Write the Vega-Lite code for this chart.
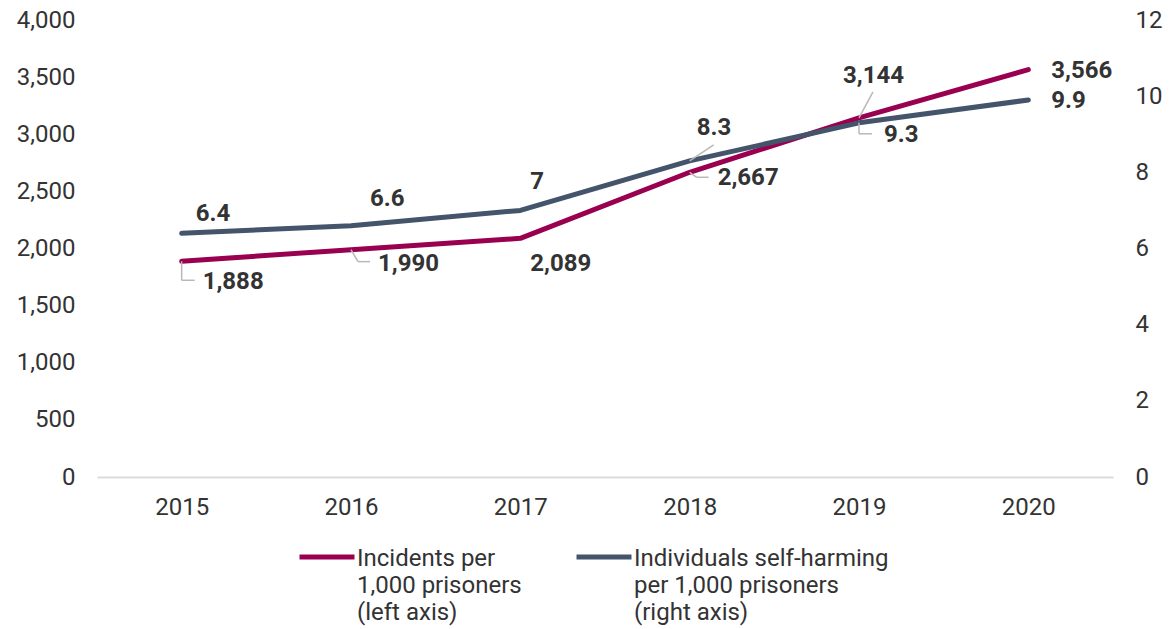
{
  "$schema": "https://vega.github.io/schema/vega-lite/v6.json",
  "width": 1016,
  "height": 457,
  "autosize": {"type": "none"},
  "padding": {"left": 97, "top": 20, "right": 56, "bottom": 152},
  "background": "white",
  "data": {"values": [
    {"year": "2015", "incidents": 1888, "individuals": 6.4},
    {"year": "2016", "incidents": 1990, "individuals": 6.6},
    {"year": "2017", "incidents": 2089, "individuals": 7},
    {"year": "2018", "incidents": 2667, "individuals": 8.3},
    {"year": "2019", "incidents": 3144, "individuals": 9.3},
    {"year": "2020", "incidents": 3566, "individuals": 9.9}
  ]},
  "encoding": {
    "x": {"field": "year", "type": "ordinal", "scale": {"type": "point", "padding": 0.5},
      "axis": {"title": null, "labelAngle": 0, "ticks": false, "domainColor": "#dcdcdc", "domainWidth": 2, "labelPadding": 18, "labelFontSize": 24, "labelColor": "#333333", "labelFont": "Roboto"}}
  },
  "layer": [
    {
      "encoding": {
        "y": {"field": "incidents", "type": "quantitative", "scale": {"domain": [0, 4000], "nice": false},
          "axis": {"title": null, "domain": false, "ticks": false, "grid": false, "labelPadding": 22, "values": [0, 500, 1000, 1500, 2000, 2500, 3000, 3500, 4000], "format": ",.0f", "labelFontSize": 24, "labelColor": "#333333", "labelFont": "Roboto", "labelFlush": false, "labelOverlap": false}}
      },
      "layer": [
        {"mark": {"type": "line", "strokeWidth": 5, "strokeCap": "round", "strokeJoin": "round"},
          "encoding": {"color": {"datum": "Incidents per|1,000 prisoners|(left axis)",
            "legend": {"orient": "none", "legendX": 200, "legendY": 497, "direction": "horizontal", "title": null,
              "symbolType": "M-1,0.36H1", "symbolStrokeWidth": 5, "symbolSize": 3025,
              "labelExpr": "split(datum.label, '|')",
              "labelFontSize": 24, "labelFont": "Roboto", "labelColor": "#333333", "labelLimit": 0,
              "labelBaseline": "top", "labelOffset": 0, "columnPadding": 44}}}},
        {"transform": [{"filter": "datum.year == '2015'"}], "mark": {"type": "rule", "color": "#b8b8b8", "strokeWidth": 1.5, "y2Offset": 19}, "encoding": {"x2": {"field": "year"}, "y2": {"field": "incidents"}}},
        {"transform": [{"filter": "datum.year == '2015'"}], "mark": {"type": "rule", "color": "#b8b8b8", "strokeWidth": 1.5, "yOffset": 19, "y2Offset": 19, "x2Offset": 13}, "encoding": {"x2": {"field": "year"}, "y2": {"field": "incidents"}}},
        {"transform": [{"filter": "datum.year == '2016'"}], "mark": {"type": "rule", "color": "#b8b8b8", "strokeWidth": 1.5, "y2Offset": 12, "x2Offset": 7}, "encoding": {"x2": {"field": "year"}, "y2": {"field": "incidents"}}},
        {"transform": [{"filter": "datum.year == '2016'"}], "mark": {"type": "rule", "color": "#b8b8b8", "strokeWidth": 1.5, "xOffset": 7, "yOffset": 12, "y2Offset": 12, "x2Offset": 19}, "encoding": {"x2": {"field": "year"}, "y2": {"field": "incidents"}}},
        {"transform": [{"filter": "datum.year == '2018'"}], "mark": {"type": "rule", "color": "#b8b8b8", "strokeWidth": 1.5, "y2Offset": 5, "x2Offset": 7}, "encoding": {"x2": {"field": "year"}, "y2": {"field": "incidents"}}},
        {"transform": [{"filter": "datum.year == '2018'"}], "mark": {"type": "rule", "color": "#b8b8b8", "strokeWidth": 1.5, "xOffset": 7, "yOffset": 5, "y2Offset": 5, "x2Offset": 19}, "encoding": {"x2": {"field": "year"}, "y2": {"field": "incidents"}}},
        {"transform": [{"filter": "datum.year == '2019'"}], "mark": {"type": "rule", "color": "#b8b8b8", "strokeWidth": 1.5, "y2Offset": -26, "x2Offset": 14}, "encoding": {"x2": {"field": "year"}, "y2": {"field": "incidents"}}},
        {"transform": [{"filter": "datum.year == '2015'"}], "mark": {"type": "text", "align": "left", "baseline": "middle", "dx": 21, "dy": 21}, "encoding": {"text": {"field": "incidents", "format": ","}}},
        {"transform": [{"filter": "datum.year == '2016'"}], "mark": {"type": "text", "align": "left", "baseline": "middle", "dx": 27, "dy": 14}, "encoding": {"text": {"field": "incidents", "format": ","}}},
        {"transform": [{"filter": "datum.year == '2017'"}], "mark": {"type": "text", "align": "left", "baseline": "middle", "dx": 10, "dy": 26}, "encoding": {"text": {"field": "incidents", "format": ","}}},
        {"transform": [{"filter": "datum.year == '2018'"}], "mark": {"type": "text", "align": "left", "baseline": "middle", "dx": 28, "dy": 6}, "encoding": {"text": {"field": "incidents", "format": ","}}},
        {"transform": [{"filter": "datum.year == '2019'"}], "mark": {"type": "text", "align": "left", "baseline": "middle", "dx": -16, "dy": -42}, "encoding": {"text": {"field": "incidents", "format": ","}}},
        {"transform": [{"filter": "datum.year == '2020'"}], "mark": {"type": "text", "align": "left", "baseline": "middle", "dx": 23, "dy": 1}, "encoding": {"text": {"field": "incidents", "format": ","}}}
      ]
    },
    {
      "encoding": {
        "y": {"field": "individuals", "type": "quantitative", "scale": {"domain": [0, 12], "nice": false},
          "axis": {"orient": "right", "title": null, "domain": false, "ticks": false, "grid": false, "labelPadding": 22, "values": [0, 2, 4, 6, 8, 10, 12], "labelFontSize": 24, "labelColor": "#333333", "labelFont": "Roboto", "labelFlush": false, "labelOverlap": false}}
      },
      "layer": [
        {"mark": {"type": "line", "strokeWidth": 5, "strokeCap": "round", "strokeJoin": "round"},
          "encoding": {"color": {"datum": "Individuals self-harming|per 1,000 prisoners|(right axis)"}}},
        {"transform": [{"filter": "datum.year == '2018'"}], "mark": {"type": "rule", "color": "#b8b8b8", "strokeWidth": 1.5, "y2Offset": -16, "x2Offset": 24}, "encoding": {"x2": {"field": "year"}, "y2": {"field": "individuals"}}},
        {"transform": [{"filter": "datum.year == '2019'"}], "mark": {"type": "rule", "color": "#b8b8b8", "strokeWidth": 1.5, "y2Offset": 11}, "encoding": {"x2": {"field": "year"}, "y2": {"field": "individuals"}}},
        {"transform": [{"filter": "datum.year == '2019'"}], "mark": {"type": "rule", "color": "#b8b8b8", "strokeWidth": 1.5, "yOffset": 11, "y2Offset": 11, "x2Offset": 13}, "encoding": {"x2": {"field": "year"}, "y2": {"field": "individuals"}}},
        {"transform": [{"filter": "datum.year == '2015'"}], "mark": {"type": "text", "align": "left", "baseline": "middle", "dx": 14, "dy": -19}, "encoding": {"text": {"field": "individuals"}}},
        {"transform": [{"filter": "datum.year == '2016'"}], "mark": {"type": "text", "align": "left", "baseline": "middle", "dx": 19, "dy": -27}, "encoding": {"text": {"field": "individuals"}}},
        {"transform": [{"filter": "datum.year == '2017'"}], "mark": {"type": "text", "align": "left", "baseline": "middle", "dx": 10, "dy": -28}, "encoding": {"text": {"field": "individuals"}}},
        {"transform": [{"filter": "datum.year == '2018'"}], "mark": {"type": "text", "align": "left", "baseline": "middle", "dx": 7, "dy": -33}, "encoding": {"text": {"field": "individuals"}}},
        {"transform": [{"filter": "datum.year == '2019'"}], "mark": {"type": "text", "align": "left", "baseline": "middle", "dx": 25, "dy": 12}, "encoding": {"text": {"field": "individuals"}}},
        {"transform": [{"filter": "datum.year == '2020'"}], "mark": {"type": "text", "align": "left", "baseline": "middle", "dx": 23, "dy": 1}, "encoding": {"text": {"field": "individuals"}}}
      ]
    }
  ],
  "resolve": {"scale": {"y": "independent"}},
  "config": {
    "view": {"stroke": null},
    "style": {"guide-label": {"lineHeight": 27}},
    "text": {"font": "Roboto", "fontWeight": "bold", "fontSize": 24, "color": "#333333"},
    "range": {"category": ["#9a0050", "#44546a"]}
  }
}
